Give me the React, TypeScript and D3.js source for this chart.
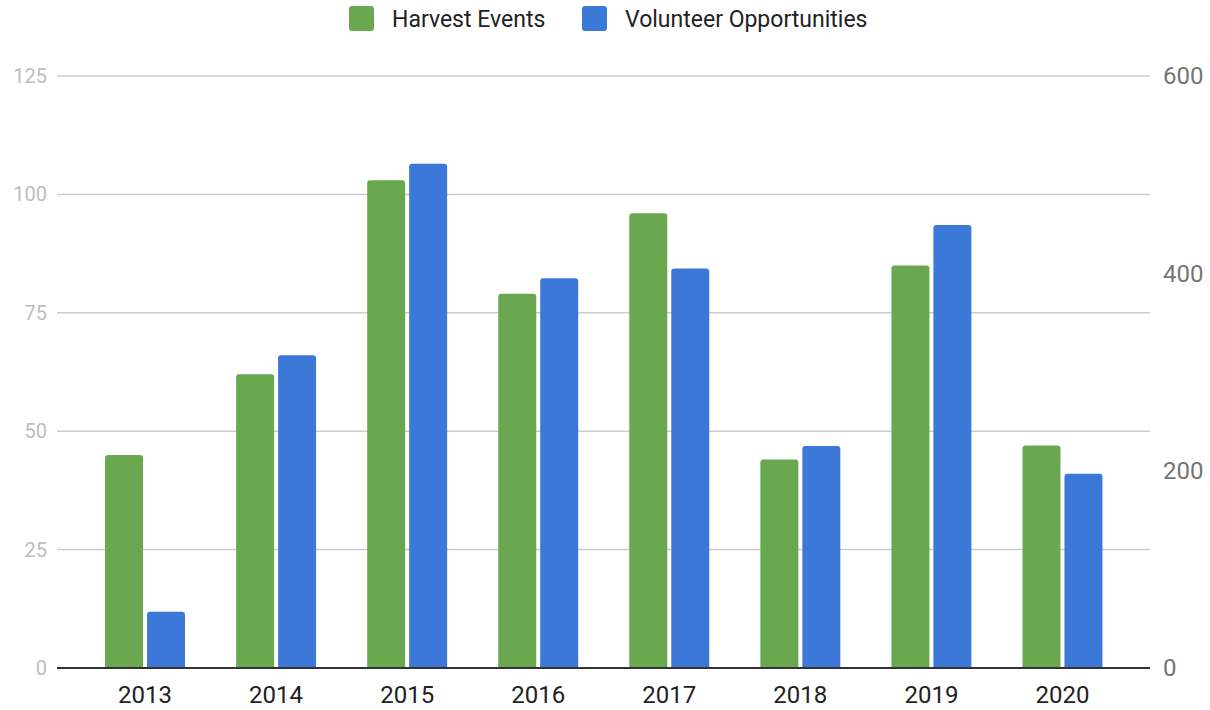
import * as d3 from "d3";
import React from "react";

const years = ["2013", "2014", "2015", "2016", "2017", "2018", "2019", "2020"];
const harvestEvents = [45, 62, 103, 79, 96, 44, 85, 47];
const volunteerOpps = [57, 317, 511, 395, 405, 225, 449, 197];
const leftTicks = [0, 25, 50, 75, 100, 125];
const rightTicks = [0, 200, 400, 600];
const seriesNames = ["Harvest Events", "Volunteer Opportunities"];
const seriesColors = ["#6aa84f", "#3c78d8"];

const width = 1210;
const height = 710;
const gridLeft = 57;
const gridRight = 1150;
const top = 76;
const bottom = 668;

// bar with rounded top corners only
const topRoundedRect = (x: number, y: number, w: number, h: number, r: number) => {
    const rr = Math.min(r, h, w / 2);
    return `M${x},${y + h}V${y + rr}Q${x},${y} ${x + rr},${y}H${x + w - rr}Q${x + w},${y} ${x + w},${y + rr}V${y + h}Z`;
};

const App = () => {
    const x = d3.scaleBand().domain(years).range([79.5, 1128]).paddingInner(0.39).paddingOuter(0.195);
    const inner = d3.scaleBand<number>().domain([0, 1]).range([0, x.bandwidth()]).paddingInner(0.095);
    const yLeft = d3.scaleLinear().domain([0, 125]).range([bottom, top]);
    const yRight = d3.scaleLinear().domain([0, 600]).range([bottom, top]);

    const series = [
        {values: harvestEvents, y: yLeft},
        {values: volunteerOpps, y: yRight}
    ];

    const font = "Roboto, 'Noto Sans', sans-serif";

    return (
        <svg width={width} height={height} style={{position: "absolute", left: 0, top: 0, background: "#fff"}}
             fontFamily={font}>
            {/* legend */}
            <g>
                <rect x={349} y={6} width={25} height={25} rx={3} fill={seriesColors[0]}/>
                <text x={392} y={27} fontSize={23} fill="#222">{seriesNames[0]}</text>
                <rect x={582} y={6} width={25} height={25} rx={3} fill={seriesColors[1]}/>
                <text x={625} y={27} fontSize={23} fill="#222">{seriesNames[1]}</text>
            </g>

            {/* grid */}
            {leftTicks.filter(t => t > 0).map(t => (
                <line key={t} x1={gridLeft} x2={gridRight} y1={yLeft(t)} y2={yLeft(t)} stroke="#cccccc" strokeWidth={1.5}/>
            ))}

            {/* left axis labels */}
            {leftTicks.map(t => (
                <text key={t} x={47} y={yLeft(t)} dy="0.35em" textAnchor="end" fontSize={20} fill="#bdbdbd">{t}</text>
            ))}

            {/* right axis labels */}
            {rightTicks.map(t => (
                <text key={t} x={1163} y={yRight(t)} dy="0.35em" textAnchor="start" fontSize={24} fill="#757575">{t}</text>
            ))}

            {/* bars */}
            {years.map((yr, i) => (
                <g key={yr} transform={`translate(${x(yr)},0)`}>
                    {series.map((s, j) => {
                        const yv = s.y(s.values[i]);
                        return (
                            <path key={j} d={topRoundedRect(inner(j)!, yv, inner.bandwidth(), bottom - yv, 3)}
                                  fill={seriesColors[j]}/>
                        );
                    })}
                </g>
            ))}

            {/* baseline */}
            <line x1={gridLeft} x2={gridRight} y1={bottom} y2={bottom} stroke="#333" strokeWidth={2}/>

            {/* x labels */}
            {years.map(yr => (
                <text key={yr} x={x(yr)! + x.bandwidth() / 2} y={703} textAnchor="middle" fontSize={24}
                      fill="#222">{yr}</text>
            ))}
        </svg>
    );
};

export default App;
